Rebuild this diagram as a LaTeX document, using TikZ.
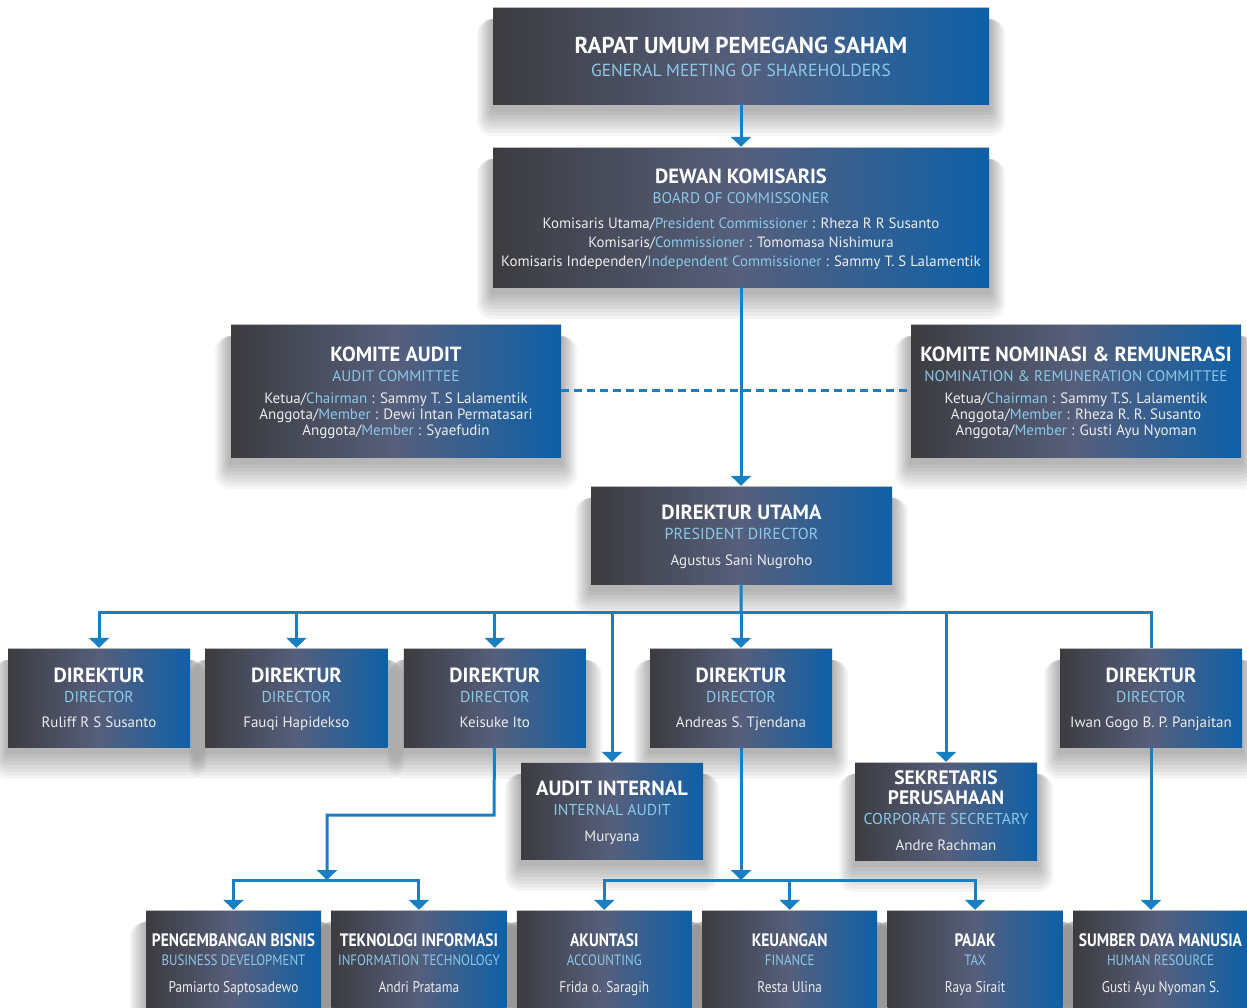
\documentclass[tikz,border=0pt]{standalone}
\usepackage{fontspec}
\setmainfont{PT Sans}
\newfontfamily\narrowfont[FakeStretch=0.86]{PT Sans}
\usetikzlibrary{positioning,arrows.meta,backgrounds}

\definecolor{lineblue}{RGB}{24,128,194}
\definecolor{subblue}{RGB}{140,200,232}
\definecolor{boxdark}{RGB}{60,60,64}
\definecolor{boxmid}{RGB}{86,95,124}
\definecolor{boxblue}{RGB}{14,96,168}
\definecolor{namegray}{RGB}{236,236,236}

\newcommand{\ttl}[2][20.5]{{\fontsize{#1}{20}\selectfont\bfseries\color{white}#2}}
\newcommand{\engt}[2][15.8]{{\fontsize{#1}{20}\selectfont\color{subblue}#2}}
\newcommand{\engl}[1]{{\color{subblue}#1}}
\newcommand{\topstrut}{\rule{0pt}{20pt}}
\newcommand{\botstrut}{\rule[-5pt]{0pt}{5pt}}

\begin{document}
\begin{tikzpicture}[x=1pt,y=-1pt,
    box/.style={rectangle,left color=boxdark,right color=boxblue,middle color=boxmid,
        align=center,inner sep=0pt,text=namegray,font=\fontsize{15}{20}\selectfont,
        path picture={\draw[gray!55,line width=1.5pt] (path picture bounding box.north west) -- (path picture bounding box.north east);}},
    director/.style={box,minimum width=182pt,minimum height=99pt},
    unit/.style={box,minimum width=175pt,minimum height=103pt,font=\narrowfont\fontsize{15.5}{19}\selectfont},
    conn/.style={draw=lineblue,line width=3pt},
    arr/.style={conn,-{Triangle[width=20pt,length=10pt]}},
    dashline/.style={conn,dash pattern=on 8pt off 5pt},
]
\useasboundingbox (0,0) rectangle (1247,1007);

% top of the chart
\node[box,minimum width=496pt,minimum height=97pt,font=\fontsize{15}{23}\selectfont] (rups) at (741,55.5)
    {\topstrut\ttl[23]{RAPAT UMUM PEMEGANG SAHAM}\\ \engt[17.5]{GENERAL MEETING OF SHAREHOLDERS}};
\node[box,minimum width=496pt,minimum height=140pt,font=\fontsize{14.9}{19}\selectfont] (komisaris) at (741,217)
    {\topstrut\ttl{DEWAN KOMISARIS}\\[1pt] \engt[15.4]{BOARD OF COMMISSONER}\\[6pt]
     Komisaris Utama/\engl{President Commissioner} : Rheza R R Susanto\\
     Komisaris/\engl{Commissioner} : Tomomasa Nishimura\\
     Komisaris Independen/\engl{Independent Commissioner} : Sammy T. S Lalamentik};

% committees
\node[box,minimum width=330pt,minimum height=133pt,font=\fontsize{15}{16}\selectfont] (audit) at (396,390.5)
    {\topstrut\ttl{KOMITE AUDIT}\\[4pt] \engt[15.3]{AUDIT COMMITTEE}\\[6pt]
     Ketua/\engl{Chairman} : Sammy T. S Lalamentik\\
     Anggota/\engl{Member} : Dewi Intan Permatasari\\
     Anggota/\engl{Member} : Syaefudin};
\node[box,minimum width=330pt,minimum height=133pt,font=\fontsize{15}{16}\selectfont] (nominasi) at (1076,390.5)
    {\topstrut\ttl{KOMITE NOMINASI \& REMUNERASI}\\[4pt] \engt[15.3]{NOMINATION \& REMUNERATION COMMITTEE}\\[6pt]
     Ketua/\engl{Chairman} : Sammy T.S. Lalamentik\\
     Anggota/\engl{Member} : Rheza R. R. Susanto\\
     Anggota/\engl{Member} : Gusti Ayu Nyoman};

\node[box,minimum width=301pt,minimum height=98pt] (dirut) at (741.5,535)
    {\topstrut\ttl{DIREKTUR UTAMA}\\ \engt[16]{PRESIDENT DIRECTOR}\\[6pt] Agustus Sani Nugroho\botstrut};

% directors
\node[director] (dir1) at (99,697.5) {\topstrut\ttl{DIREKTUR}\\ \engt{DIRECTOR}\\[5pt] Ruliff R S Susanto\botstrut};
\node[director,right=15pt of dir1] (dir2) {\topstrut\ttl{DIREKTUR}\\ \engt{DIRECTOR}\\[5pt] Fauqi Hapidekso\botstrut};
\node[director,right=16pt of dir2] (dir3) {\topstrut\ttl{DIREKTUR}\\ \engt{DIRECTOR}\\[5pt] Keisuke Ito\botstrut};
\node[director] (dir4) at (741,697.5) {\topstrut\ttl{DIREKTUR}\\ \engt{DIRECTOR}\\[5pt] Andreas S. Tjendana\botstrut};
\node[director] (dir5) at (1151,697.5) {\topstrut\ttl{DIREKTUR}\\ \engt{DIRECTOR}\\[5pt] Iwan Gogo B. P. Panjaitan\botstrut};

\node[director,minimum height=97pt] (internal) at (612,810.5)
    {\topstrut\ttl{AUDIT INTERNAL}\\ \engt{INTERNAL AUDIT}\\[6pt] Muryana\botstrut};
\node[director,minimum height=98pt] (sekper) at (946,811)
    {\rule{0pt}{18pt}\ttl[19.5]{SEKRETARIS}\\ \ttl[19.5]{PERUSAHAAN}\\ \engt{CORPORATE SECRETARY}\\[6pt] Andre Rachman\botstrut};

% units
\node[unit] (bisnis) at (233.5,961.5) {\topstrut\ttl[18]{PENGEMBANGAN BISNIS}\\ \engt[15]{BUSINESS DEVELOPMENT}\\[8pt] Pamiarto Saptosadewo\botstrut};
\node[unit,right=10pt of bisnis] (ti) {\topstrut\ttl[18]{TEKNOLOGI INFORMASI}\\ \engt[15]{INFORMATION TECHNOLOGY}\\[8pt] Andri Pratama\botstrut};
\node[unit,right=10pt of ti] (akuntansi) {\topstrut\ttl[18]{AKUNTASI}\\ \engt[15]{ACCOUNTING}\\[8pt] Frida o. Saragih\botstrut};
\node[unit,right=10pt of akuntansi] (keuangan) {\topstrut\ttl[18]{KEUANGAN}\\ \engt[15]{FINANCE}\\[8pt] Resta Ulina\botstrut};
\node[unit,right=10pt of keuangan] (pajak) {\topstrut\ttl[18]{PAJAK}\\ \engt[15]{TAX}\\[8pt] Raya Sirait\botstrut};
\node[unit,right=10pt of pajak] (sdm) {\topstrut\ttl[18]{SUMBER DAYA MANUSIA}\\ \engt[15]{HUMAN RESOURCE}\\[8pt] Gusti Ayu Nyoman S.\botstrut};

% soft shadows
\begin{scope}[on background layer]
  \fill[white] (0,0) rectangle (1247,1007);
  \foreach \b in {rups,komisaris,audit,nominasi,dirut,dir1,dir2,dir3,dir4,dir5,internal,sekper,bisnis,ti,akuntansi,keuangan,pajak,sdm}{
    \foreach \k in {1,...,8}{
      \fill[black,opacity=.04,rounded corners=\k*2pt]
        ([xshift=-\k*2pt,yshift=-4pt-\k*3.5pt]\b.south west) rectangle ([xshift=\k*2pt,yshift=-12pt]\b.north east);
    }
  }
\end{scope}

% connectors
\coordinate (bus) at (741,612);
\coordinate (bend) at (494,815);
\coordinate (fork1) at (327,880);
\coordinate (fork2) at (741,880);

\draw[arr] (rups) -- (komisaris);
\draw[dashline] (audit) -- (nominasi);
\draw[arr] (komisaris) -- (komisaris |- dirut.north);
\draw[conn] (dirut) -- (bus);
\foreach \n in {dir1,dir2,dir3,dir4,internal,sekper}
  \draw[arr] (bus) -| (\n);
\draw[conn] (bus) -| (dir5);

\draw[arr] (dir3) -- (bend) -| (fork1);
\draw[arr] (fork1) -| (bisnis);
\draw[arr] (fork1) -| (ti);

\draw[arr] (dir4) -- (fork2);
\foreach \n in {akuntansi,keuangan,pajak}
  \draw[arr] (fork2) -| (\n);

\draw[arr] (dir5) -- (dir5.south |- sdm.north);
\end{tikzpicture}
\end{document}
